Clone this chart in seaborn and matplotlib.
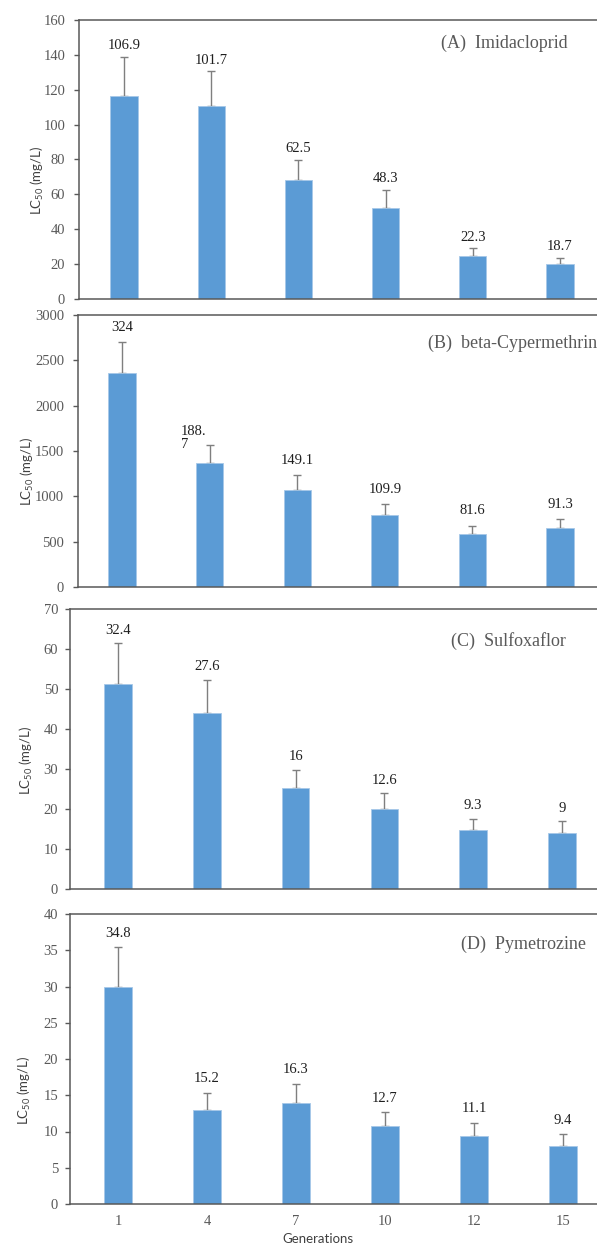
import numpy as np
import pandas as pd
import matplotlib
matplotlib.use("Agg")
import matplotlib.pyplot as plt
import seaborn as sns

# ---------------- data ----------------
generations = ["1", "4", "7", "10", "12", "15"]

imid_lc50 = [116.5, 110.8, 68.2, 52.1, 24.4, 19.8]
imid_err = [22.5, 19.8, 11.5, 10.4, 4.6, 3.9]
imid_labels = ["106.9", "101.7", "62.5", "48.3", "22.3", "18.7"]

beta_lc50 = [2364, 1373, 1075, 793, 580, 653]
beta_err = [335, 195, 162, 122, 98, 97]
beta_labels = ["324", "188.\n7", "149.1", "109.9", "81.6", "91.3"]

sulf_lc50 = [51.2, 43.9, 25.3, 20.0, 14.7, 14.1]
sulf_err = [10.2, 8.4, 4.5, 3.9, 2.8, 2.8]
sulf_labels = ["32.4", "27.6", "16", "12.6", "9.3", "9"]

pyme_lc50 = [29.9, 13.0, 14.0, 10.8, 9.4, 8.0]
pyme_err = [5.5, 2.35, 2.6, 1.9, 1.8, 1.6]
pyme_labels = ["34.8", "15.2", "16.3", "12.7", "11.1", "9.4"]

titles = ["(A)  Imidacloprid", "(B)  beta-Cypermethrin",
          "(C)  Sulfoxaflor", "(D)  Pymetrozine"]
y_max = [160, 3000, 70, 40]
y_step = [20, 500, 10, 5]

# ---------------- styling / layout ----------------
sns.set_theme(style="white")
plt.rcParams["font.family"] = ["Liberation Serif", "DejaVu Serif"]
plt.rcParams["mathtext.fontset"] = "custom"
plt.rcParams["mathtext.rm"] = "Lato"
plt.rcParams["mathtext.default"] = "rm"

W, H = 597, 1246
fig = plt.figure(figsize=(W / 100, H / 100), dpi=100)
fig.patch.set_facecolor("white")

BAR = "#5B9BD5"
GRAY = "#595959"
RIGHT = 625  # plot area runs past the right edge (cropped like the source)

# per panel geometry in pixels: spine x, top y, bottom y, first bar centre, spacing
geom = [
    dict(spine=79, top=20, bottom=299, c0=124, sp=87.2, tx=441, ty=43, lx=37, ly=180, pad=6.5, loff=8),
    dict(spine=78, top=315, bottom=587, c0=122, sp=87.6, tx=428, ty=343, lx=27, ly=471, pad=6.5, loff=10.5),
    dict(spine=70, top=609, bottom=889, c0=118, sp=88.8, tx=451, ty=641, lx=26, ly=760, pad=5, loff=9.5),
    dict(spine=70, top=914, bottom=1204, c0=118, sp=89.0, tx=461, ty=944, lx=24, ly=1090, pad=5, loff=10),
]

panels = [
    (imid_lc50, imid_err, imid_labels),
    (beta_lc50, beta_err, beta_labels),
    (sulf_lc50, sulf_err, sulf_labels),
    (pyme_lc50, pyme_err, pyme_labels),
]

for k, ((vals, errs, labs), g) in enumerate(zip(panels, geom)):
    left = g["spine"] / W
    bottom = 1 - g["bottom"] / H
    width = (RIGHT - g["spine"]) / W
    height = (g["bottom"] - g["top"]) / H
    ax = fig.add_axes([left, bottom, width, height])
    ax.set_facecolor("white")

    df = pd.DataFrame({"gen": generations, "lc50": vals, "err": errs})
    sns.barplot(data=df, x="gen", y="lc50", order=generations, color=BAR,
                saturation=1, width=0.31, errorbar=None, ax=ax,
                edgecolor="#A7C8E8", linewidth=0.6, zorder=2)
    xpos = np.arange(len(generations))
    ax.errorbar(xpos, df["lc50"], yerr=[np.zeros(len(df)), df["err"]],
                fmt="none", ecolor="#7F7F7F", elinewidth=1.0,
                capsize=2.6, capthick=1.0, zorder=1)

    for i, (v, e, lab) in enumerate(zip(vals, errs, labs)):
        if "\n" in lab:
            ax.annotate(lab, (i, v + e), xytext=(-20.5, 5), textcoords="offset points",
                        ha="left", va="center", fontsize=10.5, color="#1f1f1f",
                        linespacing=1.05)
        else:
            ax.annotate(lab, (i, v + e), xytext=(0, g["loff"]), textcoords="offset points",
                        ha="center", va="center", fontsize=10.5, color="#1f1f1f")

    xl = -(g["c0"] - g["spine"]) / g["sp"]
    xr = (RIGHT - g["c0"]) / g["sp"]
    ax.set_xlim(xl, xr)
    ax.set_ylim(0, y_max[k])
    ax.set_yticks(np.arange(0, y_max[k] + 0.1, y_step[k]))

    for s in ["top", "left", "bottom"]:
        ax.spines[s].set_visible(True)
        ax.spines[s].set_color(GRAY)
        ax.spines[s].set_linewidth(1.1)
    ax.spines["right"].set_visible(False)

    ax.tick_params(axis="y", which="major", direction="out", length=3.5, width=1,
                   color=GRAY, labelcolor=GRAY, labelsize=10.5, pad=g["pad"], left=True)
    ax.tick_params(axis="x", length=0, labelcolor=GRAY, labelsize=10.5, pad=8)

    ax.set_ylabel("LC$_{50}$ (mg/L)", family=["Lato", "DejaVu Sans"], fontsize=9.5,
                  color="#404040")
    ax.yaxis.label.set_va("center")
    ax.yaxis.set_label_coords((g["lx"] - g["spine"]) / (RIGHT - g["spine"]),
                              (g["bottom"] - g["ly"]) / (g["bottom"] - g["top"]))

    if k < 3:
        ax.set_xticklabels([])
        ax.set_xlabel("")
    else:
        ax.set_xlabel("Generations", family=["Lato", "DejaVu Sans"], fontsize=9.5,
                      color="#404040")
        ax.xaxis.label.set_va("center")
        ax.xaxis.set_label_coords((318 - g["spine"]) / (RIGHT - g["spine"]),
                                  -(1239 - g["bottom"]) / (g["bottom"] - g["top"]))

    fig.text(g["tx"] / W, 1 - g["ty"] / H, titles[k], ha="left", va="center",
             fontsize=13, color=GRAY)

fig.savefig("out.png", dpi=100, facecolor="white")
